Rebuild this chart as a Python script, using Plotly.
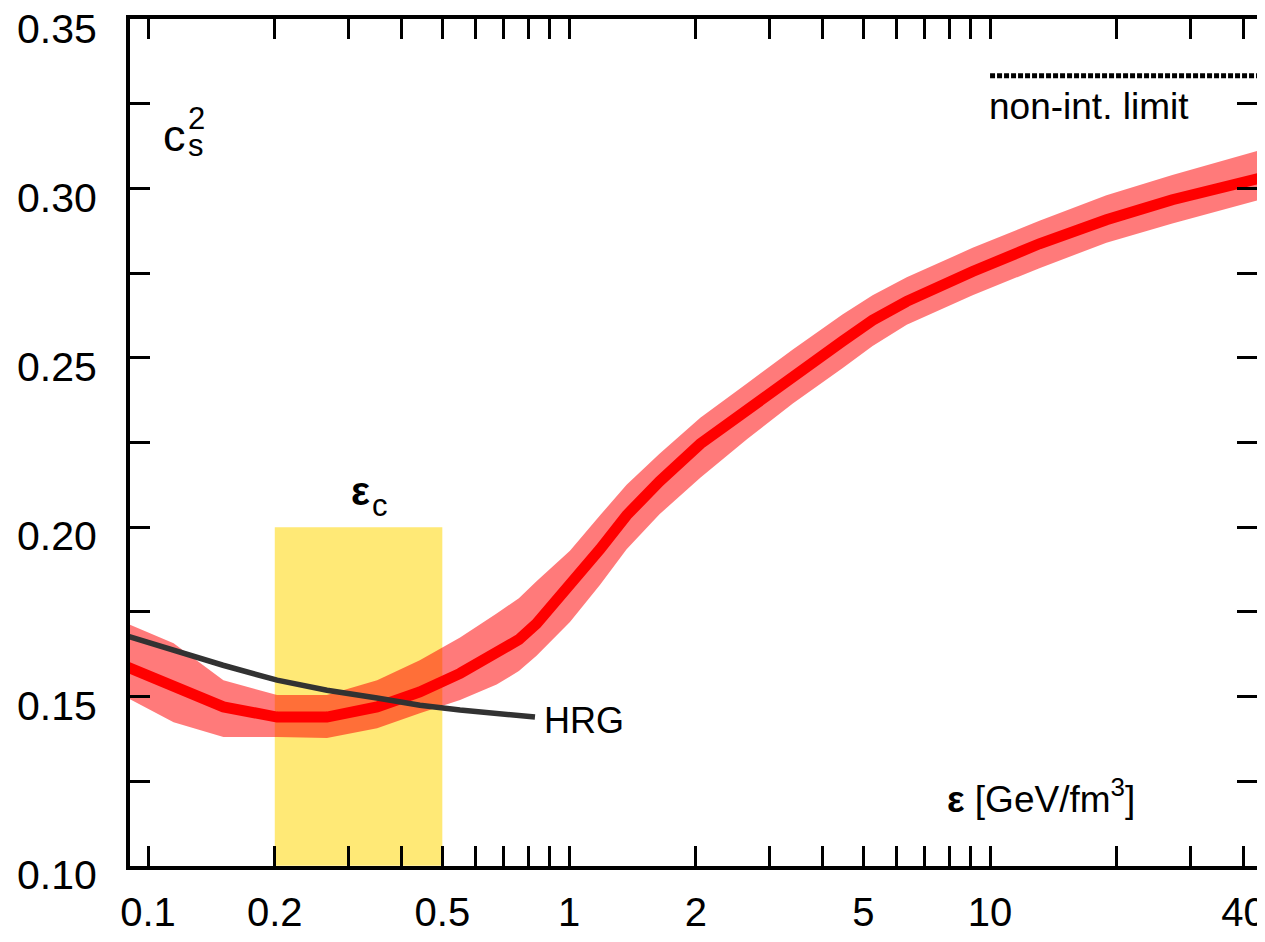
import math
import plotly.graph_objects as go

# ---- data ----
eps = [0.088, 0.115, 0.151, 0.2025, 0.266, 0.35, 0.442, 0.551, 0.673, 0.76, 0.837, 1.005,
       1.185, 1.37, 1.64, 2.05, 2.65, 3.4, 4.46, 5.26, 6.34, 9.09, 13.1, 18.9, 27.1, 43.8]
cs2 = [0.159, 0.1533, 0.1469, 0.1439, 0.1439, 0.1469, 0.1513, 0.1568, 0.1627, 0.1668,
       0.1715, 0.1825, 0.1935, 0.2035, 0.2135, 0.2246, 0.2348, 0.2450, 0.2549, 0.2611,
       0.2667, 0.2755, 0.2837, 0.2908, 0.2967, 0.3031]
cs2_upper = [0.1718, 0.1657, 0.1548, 0.1504, 0.1504, 0.1548, 0.1607, 0.1674, 0.1745, 0.179,
             0.184, 0.193, 0.2035, 0.2125, 0.2217, 0.2323, 0.2425, 0.2525, 0.2628, 0.2685,
             0.2738, 0.2825, 0.2905, 0.298, 0.304, 0.3114]
cs2_lower = [0.150, 0.1424, 0.138, 0.138, 0.1377, 0.1406, 0.145, 0.1489, 0.1535, 0.1575,
             0.162, 0.172, 0.183, 0.1935, 0.2038, 0.2146, 0.226, 0.2365, 0.2469, 0.2535,
             0.2598, 0.2685, 0.2765, 0.284, 0.2897, 0.2967]

hrg_eps = [0.0882, 0.1146, 0.1507, 0.2025, 0.2661, 0.3499, 0.4423, 0.5508, 0.6733, 0.83]
hrg_cs2 = [0.168, 0.1636, 0.1592, 0.1548, 0.1518, 0.1495, 0.1474, 0.146, 0.145, 0.1439]

eps_c_range = [0.2, 0.5]
eps_c_top = 0.20
noninteracting_limit = 1.0 / 3.0
limit_eps_range = [10.0, 44.0]

x_tickvals = [0.1, 0.2, 0.3, 0.4, 0.5, 0.6, 0.7, 0.8, 0.9, 1, 2, 3, 4, 5, 6, 7, 8, 9,
              10, 20, 30, 40]
x_ticktext = ["0.1", "0.2", "", "", "0.5", "", "", "", "", "1", "2", "", "", "5", "", "",
              "", "", "10", "", "", "40"]
y_tickvals = [0.10, 0.125, 0.15, 0.175, 0.20, 0.225, 0.25, 0.275, 0.30, 0.325, 0.35]
y_ticktext = ["0.10", "", "0.15", "", "0.20", "", "0.25", "", "0.30", "", "0.35"]

FONT = "Liberation Sans, Arial, Helvetica, sans-serif"

fig = go.Figure()

# yellow eps_c box
fig.add_trace(go.Scatter(
    x=[eps_c_range[0], eps_c_range[1], eps_c_range[1], eps_c_range[0], eps_c_range[0]],
    y=[0.10, 0.10, eps_c_top, eps_c_top, 0.10],
    mode="lines", fill="toself", fillcolor="rgb(255,233,118)",
    line=dict(width=0), hoverinfo="skip", showlegend=False))

# red error band
fig.add_trace(go.Scatter(x=eps, y=cs2_lower, mode="lines", line=dict(width=0),
                         showlegend=False, hoverinfo="skip"))
fig.add_trace(go.Scatter(x=eps, y=cs2_upper, mode="lines", line=dict(width=0),
                         fill="tonexty", fillcolor="rgba(255,0,0,0.52)",
                         showlegend=False, hoverinfo="skip"))
# central line
fig.add_trace(go.Scatter(x=eps, y=cs2, mode="lines", line=dict(color="rgb(255,0,0)", width=11),
                         showlegend=False))
# HRG
fig.add_trace(go.Scatter(x=hrg_eps, y=hrg_cs2, mode="lines",
                         line=dict(color="rgb(50,50,50)", width=5.5), showlegend=False))
# non-interacting limit
fig.add_trace(go.Scatter(x=limit_eps_range, y=[noninteracting_limit] * 2, mode="lines",
                         line=dict(color="black", width=5, dash="5px,2px"), showlegend=False))

lx = math.log10
ann = [
    dict(x=lx(0.1153), y=0.3157, text="c", size=45, xanchor="center"),
    dict(x=lx(0.1300), y=0.3126, text="s", size=31, xanchor="center"),
    dict(x=lx(0.1300), y=0.3208, text="2", size=31, xanchor="center"),
    dict(x=lx(0.3190), y=0.2107, text="<b>ε</b>", size=40, xanchor="center"),
    dict(x=lx(0.3560), y=0.2063, text="c", size=31, xanchor="center"),
    dict(x=lx(0.863), y=0.1430, text="HRG", size=36, xanchor="left"),
    dict(x=lx(7.82), y=0.1203, text="<b>ε</b> [GeV/fm<sup>3</sup>]", size=37, xanchor="left"),
    dict(x=lx(9.84), y=0.3244, text="non-int. limit", size=37, xanchor="left"),
]
for a in ann:
    fig.add_annotation(x=a["x"], y=a["y"], xref="x", yref="y", text=a["text"],
                       showarrow=False, xanchor=a["xanchor"], yanchor="middle",
                       font=dict(family=FONT, size=a["size"], color="black"))

axis_common = dict(showline=True, linecolor="black", linewidth=4, mirror="allticks",
                   ticks="inside", ticklen=20, tickwidth=3, tickcolor="black",
                   showgrid=False, zeroline=False, automargin=False,
                   ticklabeloverflow="allow")

fig.update_xaxes(type="log", range=[lx(0.0906), lx(43.06)], tickmode="array",
                 tickvals=x_tickvals, ticktext=x_ticktext, ticklabelstandoff=8,
                 tickfont=dict(family=FONT, size=40, color="black"),
                 **axis_common)
fig.update_yaxes(range=[0.0999, 0.3501], tickmode="array", tickvals=y_tickvals,
                 ticktext=y_ticktext, ticklabelstandoff=21, ticklabelshift=9,
                 tickfont=dict(family=FONT, size=41, color="black"),
                 **axis_common)

# the page body has an 8px margin; margins compensate so the plot box
# sits at the same page position as in the reference
fig.update_layout(width=1265, height=934, plot_bgcolor="white", paper_bgcolor="white",
                  margin=dict(l=122, r=16, t=11, b=76), showlegend=False)

fig.write_html("out.html")
